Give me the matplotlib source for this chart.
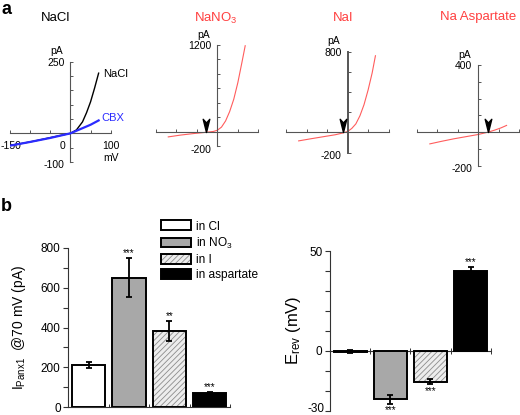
import matplotlib
matplotlib.use("Agg")
import matplotlib.pyplot as plt
from matplotlib.patches import Patch
from matplotlib.path import Path
import numpy as np

plt.rcParams["font.family"] = ["Liberation Sans", "DejaVu Sans"]
plt.rcParams["mathtext.fontset"] = "custom"
plt.rcParams["mathtext.rm"] = "Liberation Sans"
plt.rcParams["mathtext.it"] = "Liberation Sans:italic"
plt.rcParams["mathtext.bf"] = "Liberation Sans:bold"
plt.rcParams["hatch.linewidth"] = 0.6

# Panel a: example I-V traces (mV, pA)
nacl_mv = [-150, -120, -90, -60, -30, 0, 15, 30, 40, 50, 60, 70]
nacl_pa = [-42, -35, -27, -18, -9, 0, 12, 40, 72, 110, 158, 210]
cbx_mv = [-150, -100, -50, 0, 25, 50, 70]
cbx_pa = [-43, -30, -16, 0, 15, 30, 45]
no3_mv = [-120, -90, -60, -30, -10, 0, 10, 20, 30, 40, 50, 60, 68]
no3_pa = [-70, -45, -25, -8, 5, 22, 65, 150, 280, 450, 680, 960, 1190]
nai_mv = [-120, -90, -60, -30, -12, 0, 10, 20, 30, 40, 50, 60, 68]
nai_pa = [-83, -62, -42, -22, -5, 10, 40, 85, 165, 275, 420, 590, 760]
asp_mv = [-118, -90, -60, -30, 0, 24, 40, 55, 69]
asp_pa = [-70, -55, -40, -27, -14, 0, 12, 25, 40]
reversal_mv = {"no3": -27, "nai": -12, "asp": 24}

# Panel b: summary bars
ions = ["in Cl", "in NO$_\\mathregular{3}$", "in I", "in aspartate"]
current_mean = [210, 650, 384, 73]
current_sem = [15, 99, 50, 5]
erev_mean = [-0.5, -24.4, -15.5, 40.1]
erev_sem = [0.6, 2.1, 1.2, 1.8]
stars = ["", "***", "**", "***"]
erev_stars = ["", "***", "***", "***"]

W, H = 520, 415
fig = plt.figure(figsize=(W / 100, H / 100), dpi=100)

RED = "#ff4040"
AXC = "#555555"


def px_axes(x0, y0, x1, y1):
    return fig.add_axes([x0 / W, 1 - y1 / H, (x1 - x0) / W, (y1 - y0) / H])


def iv_axes(rect, ylim, ystep):
    ax = px_axes(*rect)
    ax.set_xlim(-150, 100)
    ax.set_ylim(*ylim)
    ax.patch.set_alpha(0)
    for side in ("top", "right"):
        ax.spines[side].set_visible(False)
    ax.spines["left"].set_position(("data", 0))
    ax.spines["bottom"].set_position(("data", 0))
    for side in ("left", "bottom"):
        ax.spines[side].set_color(AXC)
        ax.spines[side].set_linewidth(0.8)
    ax.set_xticks(np.arange(-150, 101, 50))
    ax.set_yticks(np.arange(ylim[0], ylim[1] + 1, ystep))
    ax.tick_params(direction="in", length=2.5, width=0.7, color=AXC,
                   labelbottom=False, labelleft=False)
    kw = dict(textcoords="offset points", fontsize=7.5)
    ax.annotate(str(ylim[1]), xy=(0, ylim[1]), xytext=(-4.3, -0.8),
                ha="right", va="center", **kw)
    ax.annotate("pA", xy=(0, ylim[1]), xytext=(-10, 7.5),
                ha="center", va="center", **kw)
    ax.annotate(str(ylim[0]), xy=(0, ylim[0]), xytext=(-4.3, -2.5),
                ha="right", va="center", **kw)
    return ax


arrow_marker = Path([(0, 0), (-0.25, 1), (0, 0.72), (0.25, 1), (0, 0)],
                    [Path.MOVETO, Path.LINETO, Path.LINETO, Path.LINETO,
                     Path.CLOSEPOLY])


def mark_reversal(ax, mv):
    ax.plot([mv], [0], marker=arrow_marker, markersize=19, color="black",
            linestyle="none", zorder=5, clip_on=False)


# NaCl / CBX
ax = iv_axes((10, 61.7, 110.7, 162), (-100, 250), 50)
ax.plot(nacl_mv, nacl_pa, color="black", lw=1.0, zorder=3)
ax.plot(cbx_mv, cbx_pa, color="#2b2bff", lw=1.6, zorder=4)
ax.text(80, 207, "NaCl", fontsize=8, va="center")
ax.text(77, 52, "CBX", fontsize=8, va="center", color="#2b2bff")
kw = dict(textcoords="offset points", fontsize=7.5, ha="center", va="center")
ax.annotate("-150", xy=(-150, 0), xytext=(0.5, -9), **kw)
ax.annotate("0", xy=(0, 0), xytext=(-5.5, -9), **kw)
ax.annotate("100", xy=(100, 0), xytext=(0, -9), **kw)
ax.annotate("mV", xy=(100, 0), xytext=(0, -18), **kw)

# NaNO3
ax = iv_axes((156, 45, 258.3, 146.3), (-200, 1200), 200)
ax.plot(no3_mv, no3_pa, color=RED, lw=0.8, alpha=0.85)
mark_reversal(ax, reversal_mv["no3"])

# NaI
ax = iv_axes((286.4, 51.7, 388.5, 152.7), (-200, 800), 200)
ax.spines["left"].set_linewidth(1.4)
ax.plot(nai_mv, nai_pa, color=RED, lw=0.8, alpha=0.85)
mark_reversal(ax, reversal_mv["nai"])

# Na aspartate
ax = iv_axes((416.7, 65, 519.3, 165.7), (-200, 400), 100)
ax.plot(asp_mv, asp_pa, color=RED, lw=0.8, alpha=0.85)
mark_reversal(ax, reversal_mv["asp"])

title_kw = dict(fontsize=9.5, ha="center", va="center")
fig.text(56 / W, 1 - 18 / H, "NaCl", color="black", **title_kw)
fig.text(215.7 / W, 1 - 18 / H, "NaNO$_\\mathregular{3}$", color=RED, **title_kw)
fig.text(343 / W, 1 - 18 / H, "NaI", color=RED, **title_kw)
fig.text(478 / W, 1 - 17 / H, "Na Aspartate", color=RED, **title_kw)

fig.text(1 / W, 1 - 0.5 / H, "a", fontsize=13, fontweight="bold", va="top")
fig.text(1 / W, 1 - 210.7 / H, "b", fontsize=13, fontweight="bold", va="baseline")

# Panel b bars
fills = ["white", "#a8a8a8", "none", "black"]
I_FILL = "#ededed"
x = np.arange(len(ions))


def bar_axes(rect, means, sems, ylim, marks):
    ax = px_axes(*rect)
    ax.set_xlim(-0.5, 3.5)
    ax.set_ylim(*ylim)
    ax.patch.set_alpha(0)
    for side in ("top", "right"):
        ax.spines[side].set_visible(False)
    for side in ("left", "bottom"):
        ax.spines[side].set_color("#333333")
        ax.spines[side].set_linewidth(0.8)
    ax.spines["bottom"].set_position(("data", 0))
    ax.bar(x[2], means[2], width=0.82, color=I_FILL, edgecolor="#8c8c8c",
           linewidth=0, hatch="//////", zorder=2)
    ax.bar(x, means, width=0.82, color=fills, edgecolor="black",
           linewidth=1.4, zorder=3)
    ax.errorbar(x, means, yerr=sems, fmt="none", ecolor="black",
                elinewidth=1.3, capsize=2.5, capthick=1.3, zorder=4)
    for xi, m, s, t in zip(x, means, sems, marks):
        if not t:
            continue
        if m >= 0:
            ax.annotate(t, xy=(xi, m + s), xytext=(0, 1.2),
                        textcoords="offset points", ha="center",
                        va="baseline", fontsize=7)
        else:
            ax.annotate(t, xy=(xi, m - s), xytext=(0, -7),
                        textcoords="offset points", ha="center",
                        va="baseline", fontsize=7)
    ax.set_xticks([-0.5, 0.5, 1.5, 2.5, 3.5])
    ax.tick_params(axis="x", direction="in", length=2, width=0.7,
                   labelbottom=False, color="#333333")
    ax.tick_params(axis="y", direction="out", length=3.5, width=0.8,
                   labelsize=8.5, color="#333333", which="both", pad=2)
    return ax


ax = bar_axes((68.3, 247.7, 230, 407.3), current_mean, current_sem, (0, 800), stars)
ax.set_yticks(np.arange(0, 801, 200))
ax.set_yticks(np.arange(100, 800, 200), minor=True)
ax.set_ylabel("I$_{\\mathregular{Panx1}}$  @70 mV (pA)", fontsize=10)
ax.yaxis.set_label_coords(-0.25, 0.5)

handles = []
for lab, f in zip(ions, fills):
    if f == "none":
        handles.append((Patch(facecolor=I_FILL, edgecolor="#8c8c8c", hatch="//////", lw=0),
                        Patch(facecolor="none", edgecolor="black", lw=1.4)))
    else:
        handles.append(Patch(facecolor=f, edgecolor="black", lw=1.4))
fig.legend(handles, ions, loc="upper left", bbox_to_anchor=(161 / W, 1 - 220.5 / H),
           frameon=False, fontsize=8.6, handlelength=2.52, handleheight=0.88,
           handletextpad=0.42, labelspacing=0.27, borderpad=0, borderaxespad=0)

ax = bar_axes((330, 251, 490.7, 410.5), erev_mean, erev_sem, (-30, 50), erev_stars)
ax.set_yticks(np.arange(-30, 51, 10))
ax.set_yticklabels(["", "", "", "0", "", "", "", "", "50"])
ax.annotate("-30", xy=(-0.5, -30), xytext=(-4.2, -3.0), textcoords="offset points",
            ha="right", va="bottom", fontsize=8.5, annotation_clip=False)
ax.tick_params(axis="x", direction="inout", length=4)
ax.set_ylabel("E$_{\\mathregular{rev}}$ (mV)", fontsize=12)
ax.yaxis.set_label_coords(-0.17, 0.5)

fig.savefig("out.png", dpi=100)
